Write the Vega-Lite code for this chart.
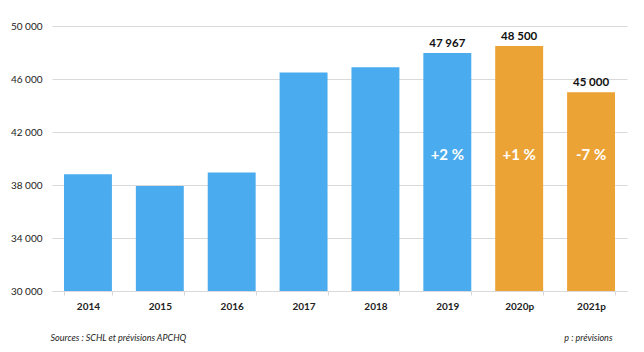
{
  "$schema": "https://vega.github.io/schema/vega-lite/v6.json",
  "autosize": {"type": "none"},
  "width": 575,
  "height": 265,
  "padding": {"left": 52, "top": 26, "right": 17, "bottom": 61},
  "background": "white",
  "config": {
    "view": {"stroke": null},
    "font": "Lato"
  },
  "data": {
    "values": [
      {"year": "2014", "value": 38810, "type": "réel", "label": null, "pct": null},
      {"year": "2015", "value": 37926, "type": "réel", "label": null, "pct": null},
      {"year": "2016", "value": 38935, "type": "réel", "label": null, "pct": null},
      {"year": "2017", "value": 46495, "type": "réel", "label": null, "pct": null},
      {"year": "2018", "value": 46895, "type": "réel", "label": null, "pct": null},
      {"year": "2019", "value": 47967, "type": "réel", "label": "47 967", "pct": "+2 %"},
      {"year": "2020p", "value": 48500, "type": "prévision", "label": "48 500", "pct": "+1 %"},
      {"year": "2021p", "value": 45000, "type": "prévision", "label": "45 000", "pct": "-7 %"}
    ]
  },
  "encoding": {
    "x": {
      "field": "year",
      "type": "ordinal",
      "sort": null,
      "scale": {"paddingInner": 0.333, "paddingOuter": 0.1667},
      "axis": {
        "title": "p : prévisions",
        "titleFont": "Lato",
        "titleFontSize": 9,
        "titleFontStyle": "italic",
        "titleFontWeight": "normal",
        "titleColor": "#222222",
        "titleX": 560,
        "titleY": 46,
        "titleAlign": "right",
        "titleBaseline": "middle",
        "titleAnchor": null,
        "labelAngle": 0,
        "labelFontSize": 10,
        "labelFontWeight": "bold",
        "labelColor": "#222222",
        "labelPadding": 6,
        "domainColor": "#d9d9d9",
        "tickColor": "#d9d9d9",
        "tickBand": "extent",
        "tickSize": 4,
        "grid": false
      }
    }
  },
  "layer": [
    {
      "mark": {"type": "bar"},
      "encoding": {
        "y": {
          "field": "value",
          "type": "quantitative",
          "scale": {"domain": [30000, 50000], "nice": false, "zero": false},
          "axis": {
            "values": [30000, 34000, 38000, 42000, 46000, 50000],
            "labelExpr": "replace(format(datum.value, ','), ',', ' ')",
            "labelFontSize": 10,
            "labelColor": "#222222",
            "labelPadding": 10,
            "domain": false,
            "ticks": false,
            "gridColor": "#d9d9d9",
            "gridWidth": 1,
            "title": "Sources : SCHL et prévisions APCHQ",
            "titleAngle": 0,
            "titleX": -2,
            "titleY": 311,
            "titleAlign": "left",
            "titleBaseline": "middle",
            "titleFont": "Lato",
            "titleFontSize": 9,
            "titleFontStyle": "italic",
            "titleFontWeight": "normal",
            "titleColor": "#222222"
          }
        },
        "y2": {"datum": 30000},
        "color": {
          "field": "type",
          "type": "nominal",
          "scale": {"domain": ["réel", "prévision"], "range": ["#4aacee", "#eca336"]},
          "legend": null
        }
      }
    },
    {
      "transform": [{"filter": "datum.label != null"}],
      "mark": {"type": "text", "baseline": "bottom", "dy": -4, "fontSize": 11.5, "fontWeight": "bold", "color": "#111111"},
      "encoding": {
        "y": {"field": "value", "type": "quantitative"},
        "text": {"field": "label"}
      }
    },
    {
      "transform": [{"filter": "datum.pct != null"}],
      "mark": {"type": "text", "baseline": "middle", "fontSize": 15, "fontWeight": "bold", "color": "white"},
      "encoding": {
        "y": {"datum": 40260},
        "text": {"field": "pct"}
      }
    }
  ]
}
